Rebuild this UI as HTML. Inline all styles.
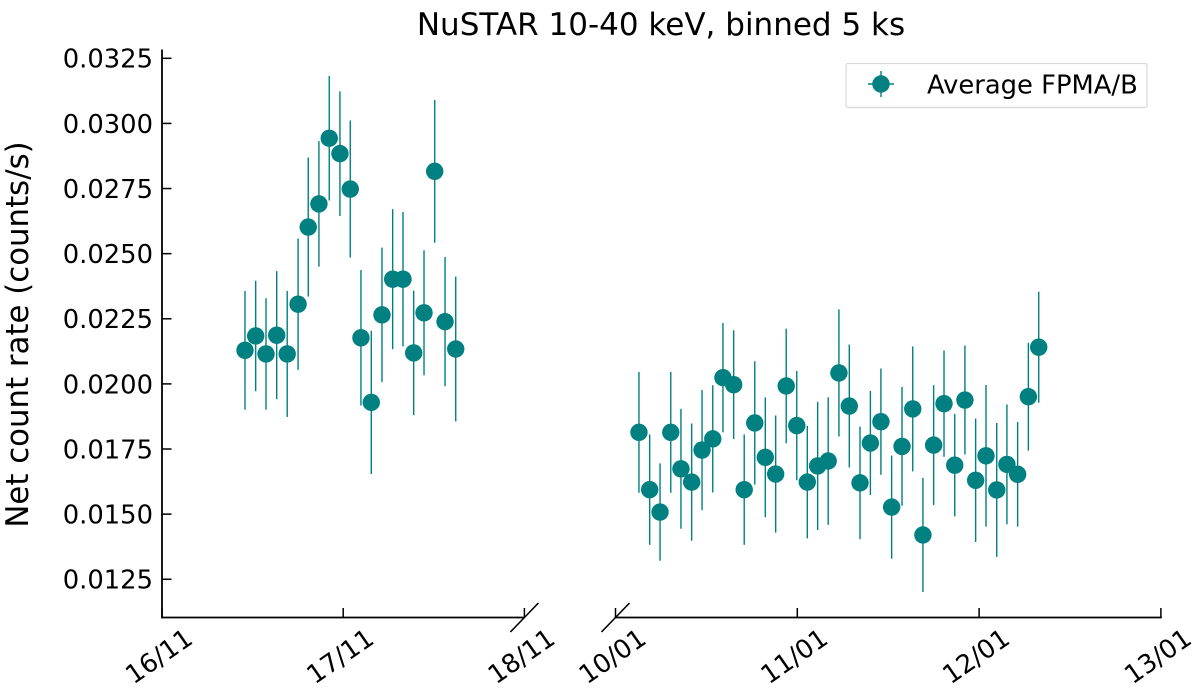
<!DOCTYPE html>
<html>
<head>
<meta charset="utf-8">
<style>
html,body{margin:0;padding:0;background:#fff;width:1200px;height:695px;overflow:hidden}
svg{display:block}
text{font-family:"DejaVu Sans","Liberation Sans",sans-serif;fill:#000}
</style>
</head>
<body>
<svg id="chart" xmlns="http://www.w3.org/2000/svg" width="1200" height="695" viewBox="0 0 1200 695">
  <text x="661" y="35" font-size="31" text-anchor="middle">NuSTAR 10-40 keV, binned 5 ks</text>
  <text transform="translate(28,334.5) rotate(-90)" font-size="30.8" text-anchor="middle">Net count rate (counts/s)</text>
  <g id="series"></g>
  <g id="axes"></g>
  <g>
    <rect x="846" y="63.5" width="301" height="44" rx="2" fill="#fff" stroke="#d9d9d9" stroke-width="1.2"/>
    <line x1="881" y1="71" x2="881" y2="97" stroke="#008080" stroke-width="1.4"/>
    <line x1="868" y1="84" x2="894" y2="84" stroke="#008080" stroke-width="1.4"/>
    <circle cx="881" cy="84" r="8.7" fill="#008080"/>
    <text x="927" y="93.5" font-size="25.8">Average FPMA/B</text>
  </g>
</svg>
<script>
const yTicks = [0.0125, 0.0150, 0.0175, 0.0200, 0.0225, 0.0250, 0.0275, 0.0300, 0.0325];
const xTicksLeft = [0, 1, 2];
const xTickLabelsLeft = ['16/11', '17/11', '18/11'];
const xTicksRight = [0, 1, 2, 3];
const xTickLabelsRight = ['10/01', '11/01', '12/01', '13/01'];

const timeNov = [0.458,0.517,0.574,0.633,0.691,0.751,0.807,0.866,0.923,0.982,1.039,1.098,1.155,1.214,1.273,1.330,1.389,1.446,1.505,1.562,1.621];
const rateNov = [0.02129,0.02184,0.02115,0.02187,0.02115,0.02306,0.02602,0.02691,0.02943,0.02884,0.02748,0.02177,0.01929,0.02265,0.02402,0.02402,0.02119,0.02273,0.02816,0.02239,0.02134];
const errNov = [0.00228,0.00212,0.00214,0.00246,0.00242,0.00252,0.00267,0.00241,0.00239,0.00239,0.00263,0.00260,0.00275,0.00258,0.00269,0.00258,0.00239,0.00240,0.00274,0.00248,0.00278];

const timeJan = [0.129,0.188,0.245,0.304,0.360,0.419,0.476,0.535,0.591,0.650,0.708,0.766,0.824,0.881,0.939,0.997,1.055,1.112,1.170,1.229,1.286,1.345,1.402,1.460,1.519,1.576,1.635,1.691,1.750,1.807,1.866,1.922,1.981,2.038,2.097,2.153,2.212,2.271,2.328];
const rateJan = [0.01814,0.01594,0.01508,0.01814,0.01674,0.01623,0.01746,0.01789,0.02024,0.01997,0.01594,0.01850,0.01718,0.01654,0.01992,0.01840,0.01623,0.01685,0.01704,0.02042,0.01915,0.01620,0.01773,0.01855,0.01527,0.01760,0.01904,0.01420,0.01765,0.01924,0.01688,0.01938,0.01630,0.01724,0.01593,0.01691,0.01653,0.01951,0.02141];
const errJan = [0.00232,0.00212,0.00187,0.00232,0.00230,0.00225,0.00231,0.00206,0.00210,0.00209,0.00212,0.00237,0.00230,0.00225,0.00220,0.00210,0.00216,0.00246,0.00245,0.00244,0.00236,0.00216,0.00200,0.00204,0.00198,0.00228,0.00240,0.00219,0.00230,0.00204,0.00197,0.00209,0.00237,0.00272,0.00257,0.00230,0.00201,0.00207,0.00213];

const NS = 'http://www.w3.org/2000/svg';
const TEAL = '#008080';
const axisLeft = 162, axisBottom = 617.5, axisTop = 49.5;
const scaleY = v => 58.3 + (0.0325 - v) / 0.0025 * 65.12;
const scaleXNov = d => 162 + d * 181.2;
const scaleXJan = d => 615.5 + d * 181.8;

const seriesGroup = document.getElementById('series');
const axesGroup = document.getElementById('axes');

function line(parent, x1, y1, x2, y2, color, width) {
  const el = document.createElementNS(NS, 'line');
  el.setAttribute('x1', x1);
  el.setAttribute('y1', y1);
  el.setAttribute('x2', x2);
  el.setAttribute('y2', y2);
  el.setAttribute('stroke', color);
  el.setAttribute('stroke-width', width);
  parent.appendChild(el);
  return el;
}

function label(parent, content, size, anchor) {
  const el = document.createElementNS(NS, 'text');
  el.textContent = content;
  el.setAttribute('font-size', size);
  el.setAttribute('text-anchor', anchor);
  parent.appendChild(el);
  return el;
}

function drawSeries(times, rates, errs, scaleX) {
  times.forEach((t, i) => {
    const x = scaleX(t);
    const bar = line(seriesGroup, x, scaleY(rates[i] + errs[i]), x, scaleY(rates[i] - errs[i]), TEAL, 1.4);
    
    
  });
  times.forEach((t, i) => {
    const dot = document.createElementNS(NS, 'circle');
    dot.setAttribute('cx', scaleX(t));
    dot.setAttribute('cy', scaleY(rates[i]));
    dot.setAttribute('r', 8.7);
    dot.setAttribute('fill', TEAL);
    
    
    seriesGroup.appendChild(dot);
  });
}
drawSeries(timeNov, rateNov, errNov, scaleXNov);
drawSeries(timeJan, rateJan, errJan, scaleXJan);

const ySpine = line(axesGroup, axisLeft, axisTop, axisLeft, axisBottom + 0.9, '#000', 1.8);



const spineNov = line(axesGroup, axisLeft - 0.9, axisBottom, scaleXNov(2), axisBottom, '#000', 1.8);



const spineJan = line(axesGroup, scaleXJan(0), axisBottom, scaleXJan(3) + 0.9, axisBottom, '#000', 1.8);



yTicks.forEach(v => {
  const y = scaleY(v);
  const tick = line(axesGroup, axisLeft, y, axisLeft + 9.5, y, '#000', 1.5);
  
  
  const txt = label(axesGroup, v.toFixed(4), 25.8, 'end');
  txt.setAttribute('x', 153);
  txt.setAttribute('y', y + 9.4);
  
  
});

function drawXTicks(ticks, labels, scaleX) {
  ticks.forEach((d, i) => {
    const x = scaleX(d);
    const tick = line(axesGroup, x, axisBottom, x, axisBottom - 9.5, '#000', 1.5);
    
    
    const txt = label(axesGroup, labels[i], 25.8, 'middle');
    txt.setAttribute('transform', 'translate(' + (x + 2) + ',663.5) rotate(-35)');
    
    
  });
}
drawXTicks(xTicksLeft, xTickLabelsLeft, scaleXNov);
drawXTicks(xTicksRight, xTickLabelsRight, scaleXJan);

const breakNov = line(axesGroup, scaleXNov(2) - 14, axisBottom + 14.5, scaleXNov(2) + 14, axisBottom - 14.5, '#000', 1.6);



const breakJan = line(axesGroup, scaleXJan(0) - 14, axisBottom + 14.5, scaleXJan(0) + 14, axisBottom - 14.5, '#000', 1.6);


</script>
</body>
</html>
